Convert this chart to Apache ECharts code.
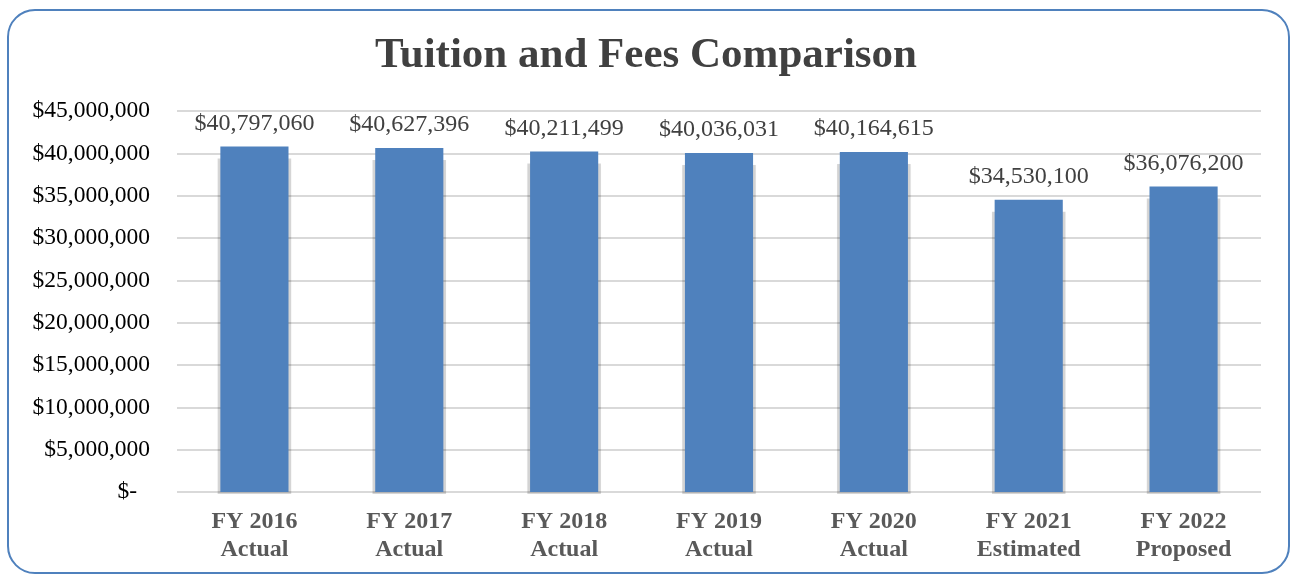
<!DOCTYPE html>
<html><head><meta charset="utf-8">
<script src="https://cdn.jsdelivr.net/npm/echarts@6/dist/echarts.min.js"></script>
<style>
html,body{margin:0;padding:0;background:#fff;}
#frame{position:absolute;left:7px;top:9px;width:1283px;height:565px;border:2px solid #4F81BD;border-radius:28px;box-sizing:border-box;}
#c{position:absolute;left:0;top:0;width:1292px;height:575px;}
</style></head>
<body>
<div id="frame"></div>
<div id="c"></div>
<script>
const categories = ['FY 2016\nActual','FY 2017\nActual','FY 2018\nActual','FY 2019\nActual','FY 2020\nActual','FY 2021\nEstimated','FY 2022\nProposed'];
const values = [40797060, 40627396, 40211499, 40036031, 40164615, 34530100, 36076200];
const yTicks = [0, 5000000, 10000000, 15000000, 20000000, 25000000, 30000000, 35000000, 40000000, 45000000];

function money(v){ return v === 0 ? '$-' : '$' + v.toLocaleString('en-US'); }

const chart = echarts.init(document.getElementById('c'), null, {renderer:'canvas'});
chart.setOption({
  backgroundColor:'transparent',
  textStyle:{fontFamily:'Liberation Serif'},
  title:{text:'Tuition and Fees Comparison', left:'center', top:29,
    textStyle:{fontFamily:'Liberation Serif', fontSize:43, fontWeight:'bold', color:'#404040'}},
  grid:{left:177, right:31, top:111, bottom:83, containLabel:false},
  xAxis:{type:'category', data:categories,
    axisLine:{show:false}, axisTick:{show:false},
    axisLabel:{fontFamily:'Liberation Serif', fontSize:24, fontWeight:'bold', color:'#595959', lineHeight:28, margin:16}},
  yAxis:{type:'value', min:0, max:45000000, interval:5000000,
    axisLine:{show:false}, axisTick:{show:false},
    splitLine:{lineStyle:{color:'#d9d9d9', width:2}},
    axisLabel:{fontFamily:'Liberation Serif', fontSize:23.5, color:'#000', margin:27,
      formatter:v=> v === 0 ? '{z|$-}' : money(v),
      rich:{z:{fontFamily:'Liberation Serif', fontSize:23.5, color:'#000', padding:[0,13,0,0]}}}},
  series:[
    {type:'custom', z:1, silent:true, data:values.map((v,i)=>[i,v]),
      renderItem:function(params, api){
        const top = api.coord([api.value(0), api.value(1)]);
        const base = api.coord([api.value(0), 0]);
        const bw = api.size([1,0])[0] * 0.475;
        return {type:'rect', shape:{x:top[0]-bw/2, y:top[1]+12, width:bw, height:base[1]-top[1]-10},
          style:{fill:'rgba(0,0,0,0.16)', shadowBlur:3, shadowColor:'rgba(0,0,0,0.12)'}};
      }},
    {type:'bar', z:2, data:values, barWidth:'44%',
    itemStyle:{color:'#4F81BD'},
    label:{show:true, position:'top', distance:11, fontFamily:'Liberation Serif', fontSize:24, color:'#404040',
      formatter:p=>money(p.value)}}]
});
</script>
</body></html>
